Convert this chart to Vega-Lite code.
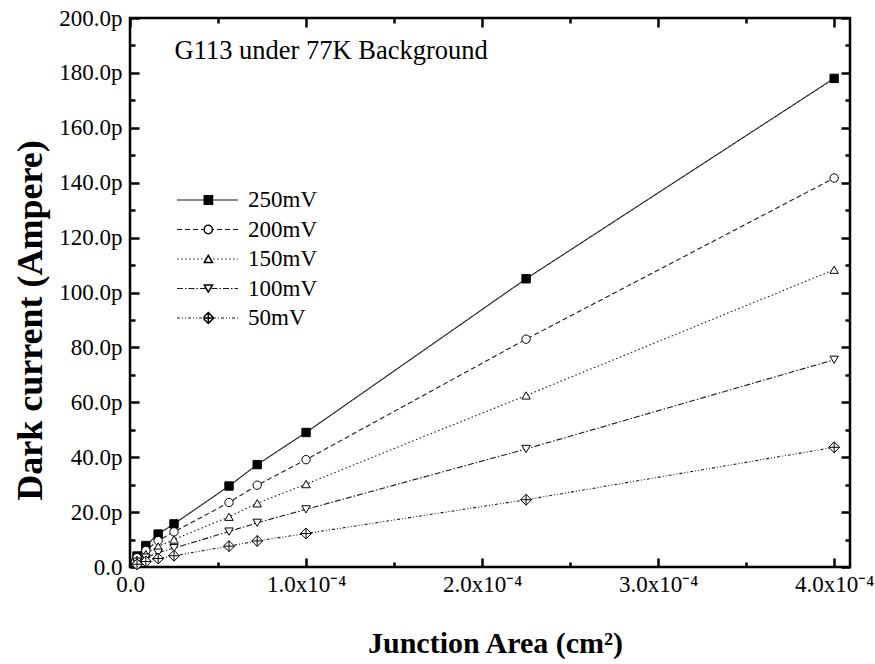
{
  "$schema": "https://vega.github.io/schema/vega-lite/v6.json",
  "width": 720,
  "height": 549,
  "autosize": {"type": "none"},
  "padding": {"left": 130, "top": 18, "right": 25, "bottom": 97},
  "background": "white",
  "view": {"stroke": "black", "strokeWidth": 2.5},
  "config": {
    "font": "Liberation Serif",
    "axis": {
      "grid": false,
      "domain": false,
      "labelFlush": false,
      "tickColor": "black",
      "tickWidth": 2.5,
      "labelFont": "Liberation Serif",
      "labelFontSize": 23,
      "labelColor": "black",
      "titleFont": "Liberation Serif",
      "titleColor": "black",
      "titleFontWeight": "bold"
    }
  },
  "datasets": {
    "iv": [
      {"series": "250mV", "area": 0.000004, "current": 4.0},
      {"series": "250mV", "area": 0.000009, "current": 7.8},
      {"series": "250mV", "area": 0.000016, "current": 12.0},
      {"series": "250mV", "area": 0.000025, "current": 15.7},
      {"series": "250mV", "area": 0.00005625, "current": 29.5},
      {"series": "250mV", "area": 0.00007225, "current": 37.3},
      {"series": "250mV", "area": 0.0001, "current": 49.0},
      {"series": "250mV", "area": 0.000225, "current": 105.0},
      {"series": "250mV", "area": 0.0004, "current": 178.0},
      {"series": "200mV", "area": 0.000004, "current": 3.4},
      {"series": "200mV", "area": 0.000009, "current": 6.0},
      {"series": "200mV", "area": 0.000016, "current": 9.6},
      {"series": "200mV", "area": 0.000025, "current": 12.8},
      {"series": "200mV", "area": 0.00005625, "current": 23.5},
      {"series": "200mV", "area": 0.00007225, "current": 29.8},
      {"series": "200mV", "area": 0.0001, "current": 39.1},
      {"series": "200mV", "area": 0.000225, "current": 83.0},
      {"series": "200mV", "area": 0.0004, "current": 141.7},
      {"series": "150mV", "area": 0.000004, "current": 2.6},
      {"series": "150mV", "area": 0.000009, "current": 4.7},
      {"series": "150mV", "area": 0.000016, "current": 7.5},
      {"series": "150mV", "area": 0.000025, "current": 10.0},
      {"series": "150mV", "area": 0.00005625, "current": 18.3},
      {"series": "150mV", "area": 0.00007225, "current": 23.2},
      {"series": "150mV", "area": 0.0001, "current": 30.2},
      {"series": "150mV", "area": 0.000225, "current": 62.5},
      {"series": "150mV", "area": 0.0004, "current": 108.3},
      {"series": "100mV", "area": 0.000004, "current": 1.9},
      {"series": "100mV", "area": 0.000009, "current": 3.4},
      {"series": "100mV", "area": 0.000016, "current": 5.2},
      {"series": "100mV", "area": 0.000025, "current": 6.9},
      {"series": "100mV", "area": 0.00005625, "current": 12.9},
      {"series": "100mV", "area": 0.00007225, "current": 16.1},
      {"series": "100mV", "area": 0.0001, "current": 21.0},
      {"series": "100mV", "area": 0.000225, "current": 43.0},
      {"series": "100mV", "area": 0.0004, "current": 75.5},
      {"series": "50mV", "area": 0.000004, "current": 1.0},
      {"series": "50mV", "area": 0.000009, "current": 2.0},
      {"series": "50mV", "area": 0.000016, "current": 3.1},
      {"series": "50mV", "area": 0.000025, "current": 4.1},
      {"series": "50mV", "area": 0.00005625, "current": 7.6},
      {"series": "50mV", "area": 0.00007225, "current": 9.5},
      {"series": "50mV", "area": 0.0001, "current": 12.2},
      {"series": "50mV", "area": 0.000225, "current": 24.5},
      {"series": "50mV", "area": 0.0004, "current": 43.6}
    ],
    "note": [
      {"note": "G113 under 77K Background", "a": 0.0000253, "c": 188}
    ]
  },
  "layer": [
    {
      "data": {"name": "iv"},
      "mark": {"type": "line", "color": "#1a1a1a", "strokeWidth": 1.1},
      "encoding": {
        "x": {
          "field": "area", "type": "quantitative",
          "scale": {"domain": [0, 0.000409], "nice": false, "zero": false},
          "axis": {
            "orient": "bottom",
            "values": [0, 0.0001, 0.0002, 0.0003, 0.0004],
            "tickSize": -9,
            "labelPadding": 15,
            "labelBaseline": "top",
            "labelExpr": "datum.value == 0 ? '0.0' : format(datum.value * 10000, '.1f') + 'x10⁻⁴'",
            "title": "Junction Area (cm²)",
            "titleFontSize": 30,
            "titleX": 365,
            "titleY": 85,
            "titleAlign": "center",
            "titleBaseline": "alphabetic"
          }
        },
        "y": {
          "field": "current", "type": "quantitative",
          "scale": {"domain": [0, 200], "nice": false, "zero": false},
          "axis": {
            "orient": "left",
            "values": [0, 20, 40, 60, 80, 100, 120, 140, 160, 180, 200],
            "tickSize": -9,
            "labelPadding": 17,
            "labelExpr": "datum.value == 0 ? '0.0' : format(datum.value, '.1f') + 'p'",
            "title": "Dark current (Ampere)",
            "titleFontSize": 36,
            "titleAngle": -90,
            "titleX": -100,
            "titleY": 302,
            "titleAlign": "center",
            "titleBaseline": "middle"
          }
        },
        "strokeDash": {
          "field": "series", "type": "nominal",
          "sort": ["250mV", "200mV", "150mV", "100mV", "50mV"],
          "scale": {"range": [[1, 0], [5, 3], [1.5, 2.5], [6, 2, 1.5, 2], [3, 2, 1, 2, 1, 2]]},
          "legend": {
            "orient": "none", "legendX": 46, "legendY": 167.5,
            "title": null,
            "symbolType": "stroke", "symbolSize": 3721,
            "symbolStrokeColor": "#1a1a1a", "symbolStrokeWidth": 1.1,
            "clipHeight": 29, "rowPadding": 0.5, "padding": 0,
            "labelFont": "Liberation Serif", "labelFontSize": 23, "labelColor": "black", "labelOffset": 9
          }
        }
      }
    },
    {
      "data": {"name": "iv"},
      "mark": {"type": "point", "filled": true, "stroke": "black", "strokeWidth": 1, "size": 70, "opacity": 1},
      "encoding": {
        "x": {
          "field": "area", "type": "quantitative",
          "scale": {"domain": [0, 0.000409], "nice": false, "zero": false},
          "axis": {"orient": "top", "values": [0, 0.0001, 0.0002, 0.0003, 0.0004], "tickSize": -9, "labels": false, "title": null}
        },
        "y": {
          "field": "current", "type": "quantitative",
          "scale": {"domain": [0, 200], "nice": false, "zero": false},
          "axis": {"orient": "right", "values": [0, 20, 40, 60, 80, 100, 120, 140, 160, 180, 200], "tickSize": -9, "labels": false, "title": null}
        },
        "shape": {
          "field": "series", "type": "nominal",
          "scale": {
            "domain": ["250mV", "200mV", "150mV", "100mV", "50mV"],
            "range": ["square", "circle", "triangle-up", "triangle-down", "M0,-1.3L1.3,0L0,1.3L-1.3,0ZM0,-1.3L0,1.3M-1.3,0L1.3,0"]
          },
          "legend": {
            "orient": "none", "legendX": 73.3, "legendY": 167.5,
            "title": null, "symbolSize": 70, "clipHeight": 29, "rowPadding": 0.5, "padding": 0,
            "labelExpr": "''",
            "encode": {"symbols": {"update": {"stroke": {"value": "black"}, "strokeWidth": {"value": 1}, "opacity": {"value": 1}}}}
          }
        },
        "fill": {
          "field": "series", "type": "nominal",
          "scale": {
            "domain": ["250mV", "200mV", "150mV", "100mV", "50mV"],
            "range": ["black", "white", "white", "white", "white"]
          },
          "legend": {
            "orient": "none", "legendX": 73.3, "legendY": 167.5,
            "title": null, "symbolSize": 70, "clipHeight": 29, "rowPadding": 0.5, "padding": 0,
            "labelExpr": "''",
            "encode": {"symbols": {"update": {"stroke": {"value": "black"}, "strokeWidth": {"value": 1}, "opacity": {"value": 1}}}}
          }
        }
      }
    },
    {
      "data": {"name": "note"},
      "mark": {"type": "text", "align": "left", "baseline": "middle", "fontSize": 26.5, "font": "Liberation Serif", "color": "black"},
      "encoding": {
        "x": {
          "field": "a", "type": "quantitative",
          "scale": {"domain": [0, 0.000409], "nice": false, "zero": false},
          "axis": {"orient": "bottom", "values": [0.00005, 0.00015, 0.00025, 0.00035], "tickSize": -5, "labels": false, "title": null}
        },
        "y": {
          "field": "c", "type": "quantitative",
          "scale": {"domain": [0, 200], "nice": false, "zero": false},
          "axis": {"orient": "left", "values": [10, 30, 50, 70, 90, 110, 130, 150, 170, 190], "tickSize": -5, "labels": false, "title": null}
        },
        "text": {"field": "note", "type": "nominal"}
      }
    },
    {
      "data": {"name": "note"},
      "mark": {"type": "point", "opacity": 0},
      "encoding": {
        "x": {
          "field": "a", "type": "quantitative",
          "scale": {"domain": [0, 0.000409], "nice": false, "zero": false},
          "axis": {"orient": "top", "values": [0.00005, 0.00015, 0.00025, 0.00035], "tickSize": -5, "labels": false, "title": null}
        },
        "y": {
          "field": "c", "type": "quantitative",
          "scale": {"domain": [0, 200], "nice": false, "zero": false},
          "axis": {"orient": "right", "values": [10, 30, 50, 70, 90, 110, 130, 150, 170, 190], "tickSize": -5, "labels": false, "title": null}
        }
      }
    }
  ],
  "resolve": {"axis": {"x": "independent", "y": "independent"}}
}
